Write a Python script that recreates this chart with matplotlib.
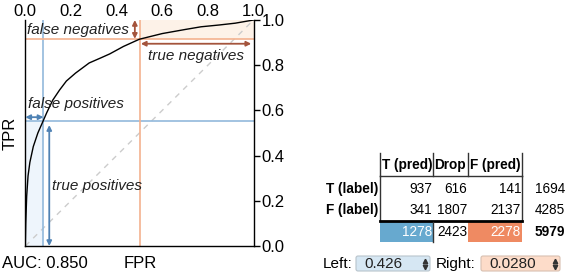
import matplotlib
matplotlib.use("Agg")
import matplotlib.pyplot as plt
from matplotlib.patches import Rectangle, FancyBboxPatch
import numpy as np

plt.rcParams['font.family'] = ['Liberation Sans', 'DejaVu Sans']

# ROC curve
fpr = [0.0, 0.002, 0.006, 0.012, 0.02, 0.035, 0.055, 0.078, 0.094, 0.12, 0.15,
       0.18, 0.22, 0.28, 0.33, 0.37, 0.43, 0.5, 0.6, 0.7, 0.77, 0.85, 0.92, 1.0]
tpr = [0.0, 0.1, 0.22, 0.31, 0.37, 0.44, 0.5, 0.553, 0.59, 0.645, 0.69,
       0.73, 0.765, 0.81, 0.832, 0.85, 0.883, 0.915, 0.94, 0.958, 0.97, 0.978, 0.986, 1.0]
auc = 0.850

# confusion table
col_names = ["T (pred)", "Drop", "F (pred)"]
row_names = ["T (label)", "F (label)"]
counts = [[937, 616, 141],
          [341, 1807, 2137]]
row_totals = [1694, 4285]
col_totals = [1278, 2423, 2278]
total = 5979
left_thr = "0.426"
right_thr = "0.0280"

fpr_l = counts[1][0] / row_totals[1]
tpr_l = counts[0][0] / row_totals[0]
fpr_r = 1 - counts[1][2] / row_totals[1]
tpr_r = 1 - counts[0][2] / row_totals[0]

blue_line = "#92b9dc"
blue_arrow = "#4f82b4"
orange_line = "#f4b28f"
brown_arrow = "#a4543c"

fig = plt.figure(figsize=(5.66, 2.76), dpi=100)
ax = fig.add_axes([0.0447, 0.1087, 0.4032, 0.8188])

ax.fill_between([0, fpr_l], 0, tpr_l, color="#eef5fc", lw=0, zorder=0)
ax.fill_between([fpr_r, 1], tpr_r, 1, color="#fdf2e8", lw=0, zorder=0)
ax.plot([0, 1], [0, 1], color="#cccccc", lw=1, dashes=(4, 4), zorder=1)
ax.axvline(fpr_l, color=blue_line, lw=1.2, zorder=2)
ax.axhline(tpr_l, color=blue_line, lw=1.2, zorder=2)
ax.axvline(fpr_r, color=orange_line, lw=1.2, zorder=2)
ax.axhline(tpr_r, color=orange_line, lw=1.2, zorder=2)
ax.plot(fpr, tpr, color="black", lw=1, zorder=3)

def arrow(x0, y0, x1, y1, c):
    ax.annotate("", xy=(x1, y1), xytext=(x0, y0),
                arrowprops=dict(arrowstyle="<|-|>", color=c, lw=1.3,
                                mutation_scale=7, shrinkA=0, shrinkB=0), zorder=4)

arrow(0.48, tpr_r, 0.48, 1.0, brown_arrow)
arrow(fpr_r + 0.005, 0.895, 0.99, 0.895, brown_arrow)
arrow(0.0, 0.57, fpr_l, 0.57, blue_arrow)
arrow(0.105, 0.535, 0.105, 0.0, blue_arrow)

ital = dict(fontsize=11, style="italic", color="#222222", va="center")
ax.text(0.455, 0.957, "false negatives", ha="right", **ital)
ax.text(0.75, 0.84, "true negatives", ha="center", **ital)
ax.text(0.012, 0.628, "false positives", ha="left", **ital)
ax.text(0.115, 0.265, "true positives", ha="left", **ital)

ax.set_xlim(0, 1)
ax.set_ylim(0, 1)
ticks = [0.0, 0.2, 0.4, 0.6, 0.8, 1.0]
ax.set_xticks(ticks)
ax.set_yticks(ticks)
ax.set_xticklabels([f"{t:.1f}" for t in ticks])
ax.set_yticklabels([f"{t:.1f}" for t in ticks])
ax.xaxis.tick_top()
ax.tick_params(axis="x", length=0, pad=1, labelsize=12)
ax.yaxis.tick_right()
ax.tick_params(axis="y", length=4, width=1, pad=2, labelsize=12)
ax.spines["top"].set_visible(False)
for s in ["left", "bottom", "right"]:
    ax.spines[s].set_linewidth(1)
ax.set_facecolor("none")

# labels outside the plot, in pixel space
ov = fig.add_axes([0, 0, 1, 1])
ov.set_xlim(0, 566)
ov.set_ylim(276, 0)
ov.axis("off")
ov.text(10, 133, "TPR", rotation=90, ha="center", va="center", fontsize=12)
ov.text(140, 264, "FPR", ha="center", va="center", fontsize=12)
ov.text(2, 264, f"AUC: {auc:.3f}", ha="left", va="center", fontsize=12)

# table
edges = [380, 433, 468, 522]
ln = dict(color="#333333", lw=1)
for x in edges:
    ov.plot([x, x], [153, 176], **ln)
ov.plot([380, 380], [176, 221], **ln)
ov.plot([522, 522], [176, 221], **ln)
ov.plot([380, 522], [176, 176], **ln)
ov.plot([380, 522], [221, 221], color="black", lw=2)
ov.add_patch(Rectangle((380, 222), 53, 20, color="#67a9cf", lw=0))
ov.add_patch(Rectangle((468, 222), 54, 20, color="#ef8a62", lw=0))
ov.plot([433, 433], [222, 242], **ln)

tfs = 9.8
for j, name in enumerate(col_names):
    ov.text(edges[j] + 1.5, 165, name, ha="left", va="center", fontsize=tfs, weight="bold")
for i, name in enumerate(row_names):
    y = 189 + 21 * i
    ov.text(378, y, name, ha="right", va="center", fontsize=tfs, weight="bold")
    for j in range(3):
        ov.text(edges[j + 1] - 1, y, str(counts[i][j]), ha="right", va="center", fontsize=tfs)
    ov.text(565, y, str(row_totals[i]), ha="right", va="center", fontsize=tfs)
col_txt = ["white", "black", "white"]
for j in range(3):
    ov.text(edges[j + 1] - 1, 232, str(col_totals[j]), ha="right", va="center",
            fontsize=tfs, color=col_txt[j])
ov.text(565, 232, str(total), ha="right", va="center", fontsize=tfs, weight="bold")

# threshold inputs
ov.text(323, 264, "Left:", ha="left", va="center", fontsize=11)
ov.add_patch(FancyBboxPatch((356, 256), 74, 15, boxstyle="round,pad=0,rounding_size=2",
                            fc="#d6e7f3", ec="#b8c4cc", lw=0.8))
ov.text(364, 264, left_thr, ha="left", va="center", fontsize=11, color="#222222")
ov.text(436, 264, "Right:", ha="left", va="center", fontsize=11)
ov.add_patch(FancyBboxPatch((481, 256), 79, 15, boxstyle="round,pad=0,rounding_size=2",
                            fc="#fddcc9", ec="#d8c0b0", lw=0.8))
ov.text(489, 264, right_thr, ha="left", va="center", fontsize=11, color="#222222")
for xs in [425, 555]:
    ov.plot(xs, 261, marker="^", ms=3.2, color="#333333")
    ov.plot(xs, 267, marker="v", ms=3.2, color="#333333")

fig.savefig("out.png", dpi=100)
